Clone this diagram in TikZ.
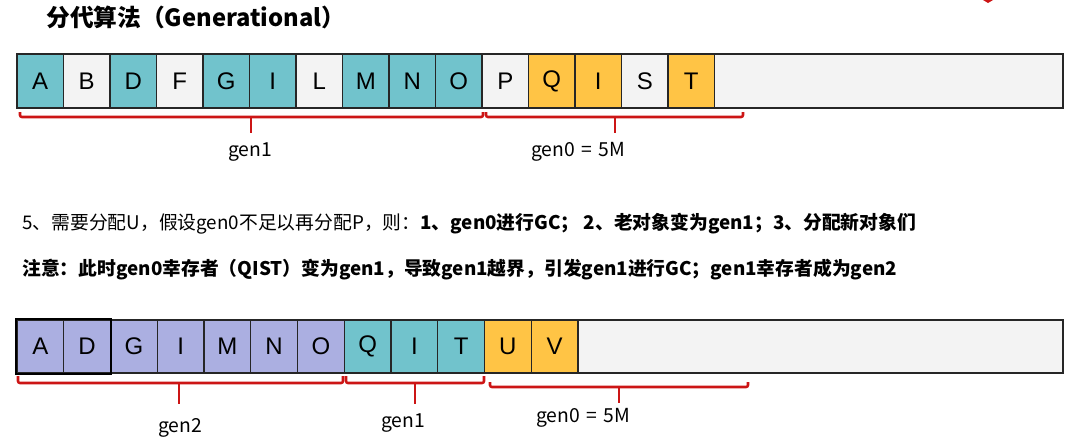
\documentclass[tikz,border=0pt]{standalone}
\usepackage{fontspec}
\setmainfont{Noto Sans CJK SC}
\newfontfamily\cellfont{Liberation Sans}
\definecolor{tl}{HTML}{71C3CC}
\definecolor{gy}{HTML}{F3F3F3}
\definecolor{og}{HTML}{FFC445}
\definecolor{lv}{HTML}{ABAFE1}
\definecolor{rd}{HTML}{CC1515}
\tikzset{
  cell/.style={draw=black!85, line width=1.1pt, inner sep=0pt,
    minimum width=34.9pt, minimum height=40.5pt,
    font=\cellfont\fontsize{18}{20}\selectfont},
  bcell/.style={cell, minimum width=35.06pt, minimum height=39.75pt},
  brace/.style={draw=rd, line width=1.9pt, rounded corners=1.5pt},
  genlabel/.style={font=\fontsize{14.5}{16}\selectfont, inner sep=0pt},
  note/.style={anchor=west, inner sep=0pt, font=\fontsize{14.1}{16}\selectfont}
}

\begin{document}
\begin{tikzpicture}[x=0.75pt,y=-0.75pt]
    \useasboundingbox (0,0) rectangle (1069,446);
    % 标题
    \node[anchor=west, inner sep=0pt, font=\bfseries\fontsize{17.8}{20}\selectfont] (title) at (46,17) {分代算法（Generational）};
    \fill[rd] (983,0) -- (993,0) -- (988,3) -- cycle;

    % 第一行内存
    \draw[draw=black!85, line width=1.1pt, fill=gy] (17,54) rectangle (1063,108);
    \foreach \l/\c [count=\i] in {A/tl,B/gy,D/tl,F/gy,G/tl,I/tl,L/gy,M/tl,N/tl,O/tl,P/gy,Q/og,I/og,S/gy,T/og}
        \node[cell, fill=\c] (t\i) at ({17+46.5*(\i-0.5)},81) {\l};

    \draw[brace] (20,112) -- (20,117) -- (483,117) -- (483,112);
    \draw[brace] (251,117) -- (251,133);
    \node[genlabel] (tgen1) at (250,152) {gen1};
    \draw[brace] (486,112) -- (486,117) -- (743,117) -- (743,112);
    \draw[brace] (615,117) -- (615,133);
    \node[genlabel] (tgen0) at (578,152) {gen0\,\,=\,\,5M};

    % 说明文字
    \node[note] (step5) at (22,224) {5、需要分配U，假设gen0不足以再分配P，则：\textbf{1、gen0进行GC； 2、老对象变为gen1；3、分配新对象们}};
    \node[note, font=\bfseries\fontsize{14.1}{16}\selectfont] (notice) at (22,270) {注意：此时gen0幸存者（QIST）变为gen1，导致gen1越界，引发gen1进行GC；gen1幸存者成为gen2};

    % 第二行内存
    \draw[draw=black!85, line width=1.1pt, fill=gy] (17,320) rectangle (1063,373);
    \foreach \l/\c [count=\i] in {A/lv,D/lv,G/lv,I/lv,M/lv,N/lv,O/lv,Q/tl,I/tl,T/tl,U/og,V/og}
        \node[bcell, fill=\c] (b\i) at ({17+46.75*(\i-0.5)},346.5) {\l};
    \draw[black, line width=1.4pt] (b1.north west) rectangle (b2.south east);

    \draw[brace] (18,376) -- (18,383) -- (343,383) -- (343,376);
    \draw[brace] (179,383) -- (179,404);
    \node[genlabel] (bgen2) at (180,428) {gen2};
    \draw[brace] (346,376) -- (346,383) -- (484,383) -- (484,376);
    \draw[brace] (415,383) -- (415,404);
    \node[genlabel] (bgen1) at (403,423) {gen1};
    \draw[brace] (490,382) -- (490,387) -- (748,387) -- (748,382);
    \draw[brace] (619,387) -- (619,403);
    \node[genlabel] (bgen0) at (583,418) {gen0\,\,=\,\,5M};
\end{tikzpicture}
\end{document}
